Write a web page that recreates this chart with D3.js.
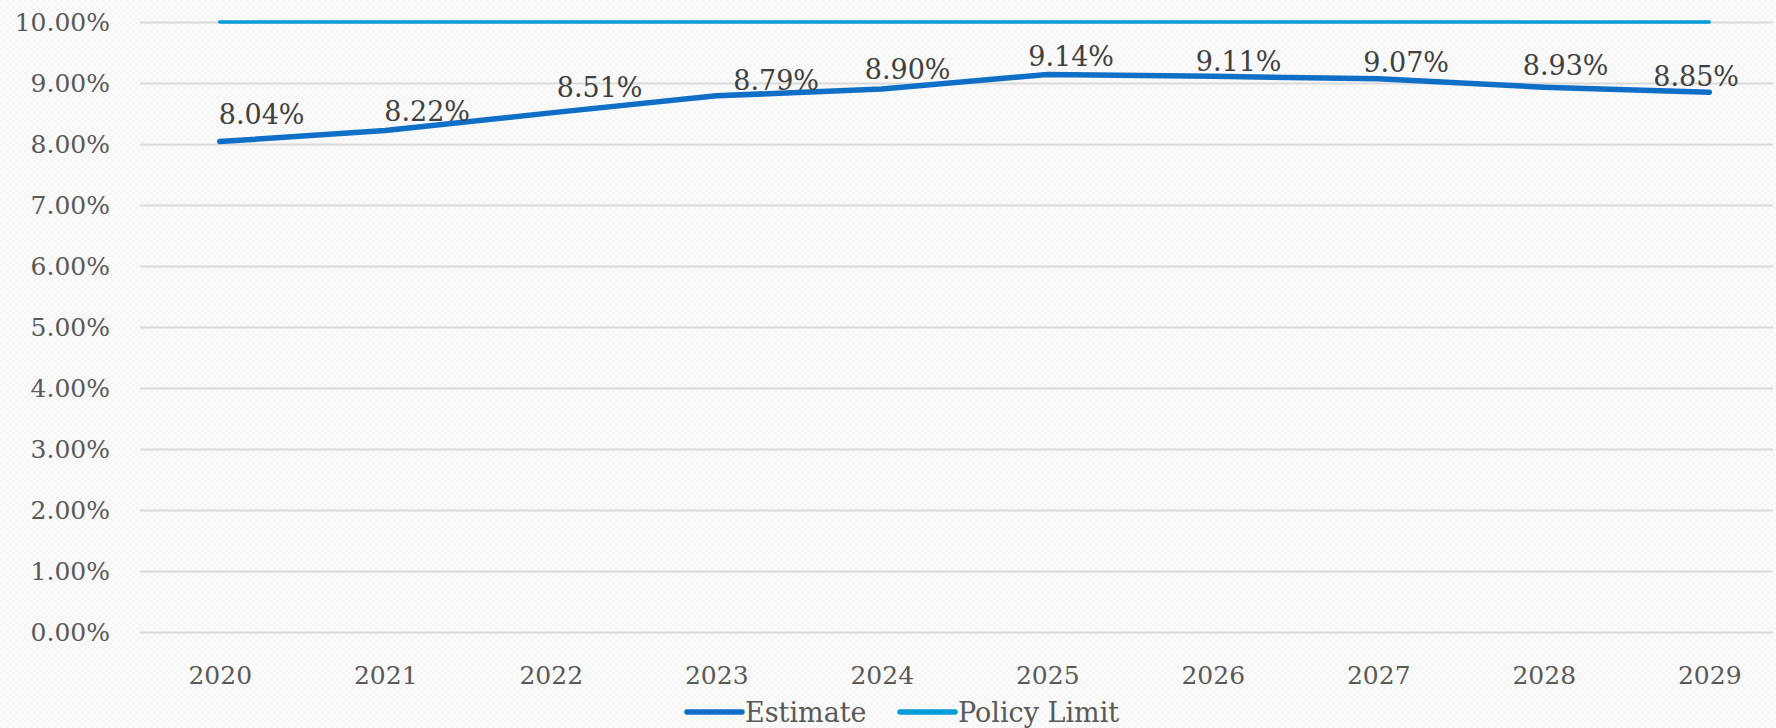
<!DOCTYPE html>
<html>
<head>
<meta charset="utf-8">
<script src="https://cdn.jsdelivr.net/npm/d3@7"></script>
<style>
  html, body { margin: 0; padding: 0; background: #fff; }
  svg { display: block; }
</style>
</head>
<body>
<svg id="chart" width="1776" height="728"></svg>
<script>
// chart values
var years = ["2020", "2021", "2022", "2023", "2024", "2025", "2026", "2027", "2028", "2029"];
var estimate = [0.0804, 0.0822, 0.0851, 0.0879, 0.0890, 0.0914, 0.0911, 0.0907, 0.0893, 0.0885];
var policyLimit = [0.10, 0.10, 0.10, 0.10, 0.10, 0.10, 0.10, 0.10, 0.10, 0.10];
var yTicks = [0, 0.01, 0.02, 0.03, 0.04, 0.05, 0.06, 0.07, 0.08, 0.09, 0.10];
var seriesNames = ["Estimate", "Policy Limit"];

// hand placed data label nudges (the source chart had them dragged around)
var labelDx = [-1, -1, 6, 17, -17, -19, -17, -15, -21, -56];
var labelDy = [-18, -10, -16, -6, -10, -8, -5, -7, -12, -6];

var font = "'DejaVu Serif', 'Liberation Serif', serif";
var svg = d3.select("#chart");

// faint textured background like the office theme fill
var defs = svg.append("defs");
var pat = defs.append("pattern")
    .attr("id", "bg")
    .attr("width", 6).attr("height", 6)
    .attr("patternUnits", "userSpaceOnUse");
pat.append("rect").attr("width", 6).attr("height", 6).attr("fill", "#fcfcfc");
pat.append("rect").attr("x", 0).attr("y", 0).attr("width", 3).attr("height", 3).attr("fill", "#f5f5f5");
pat.append("rect").attr("x", 3).attr("y", 3).attr("width", 3).attr("height", 3).attr("fill", "#f5f5f5");
svg.append("rect").attr("width", 1776).attr("height", 728).attr("fill", "url(#bg)");

var x = d3.scalePoint().domain(years).range([137, 1792]).padding(0.5);
var y = d3.scaleLinear().domain([0, 0.10]).range([632, 22]);
var gridLeft = 140, gridRight = 1773;

// gridlines + y labels
var yAxis = d3.axisLeft(y)
    .tickValues(yTicks)
    .tickSize(-(gridRight - gridLeft))
    .tickPadding(30)
    .tickFormat(d3.format(".2%"));

var ya = svg.append("g")
    .attr("transform", "translate(" + gridLeft + ",0)")
    .call(yAxis);
ya.select(".domain").remove();
ya.selectAll(".tick line").attr("stroke", "#d9d9d9").attr("stroke-width", 2);
ya.selectAll(".tick text")
    .attr("fill", "#595959")
    .style("font-family", font)
    .style("font-size", "25px");

// x labels
var xa = svg.append("g")
    .attr("transform", "translate(0,632)")
    .call(d3.axisBottom(x).tickSize(0).tickPadding(0));
xa.select(".domain").remove();
xa.selectAll(".tick text")
    .attr("y", 52)
    .attr("dy", 0)
    .attr("fill", "#595959")
    .style("font-family", font)
    .style("font-size", "25px");

var line = d3.line()
    .x(function(d, i) { return x(years[i]); })
    .y(function(d) { return y(d); });

svg.append("path")
    .datum(policyLimit)
    .attr("fill", "none")
    .attr("stroke", "#009DD9")
    .attr("stroke-width", 3.5)
    .attr("stroke-linecap", "round")
    .attr("d", line);

svg.append("path")
    .datum(estimate)
    .attr("fill", "none")
    .attr("stroke", "#0F6FC6")
    .attr("stroke-width", 5.5)
    .attr("stroke-linejoin", "round")
    .attr("stroke-linecap", "round")
    .attr("d", line);

// data labels
svg.append("g").selectAll("text")
    .data(estimate)
    .enter()
    .append("text")
    .attr("x", function(d, i) { return x(years[i]) + labelDx[i]; })
    .attr("y", function(d, i) { return y(d) + labelDy[i]; })
    .attr("fill", "#404040")
    .style("font-family", font)
    .style("font-size", "27px")
    .text(function(d) { return d3.format(".2%")(d); });

// legend
var legendColors = ["#0F6FC6", "#009DD9"];
var legendX = [687, 900];
var lg = svg.append("g").selectAll("g")
    .data(seriesNames)
    .enter()
    .append("g")
    .attr("transform", function(d, i) { return "translate(" + legendX[i] + ",712)"; });

lg.append("line")
    .attr("x1", 0).attr("x2", 55)
    .attr("stroke", function(d, i) { return legendColors[i]; })
    .attr("stroke-width", 5.5)
    .attr("stroke-linecap", "round");

lg.append("text")
    .attr("x", 58)
    .attr("y", 10)
    .attr("fill", "#595959")
    .style("font-family", font)
    .style("font-size", "27px")
    .text(function(d) { return d; });
</script>
</body>
</html>
